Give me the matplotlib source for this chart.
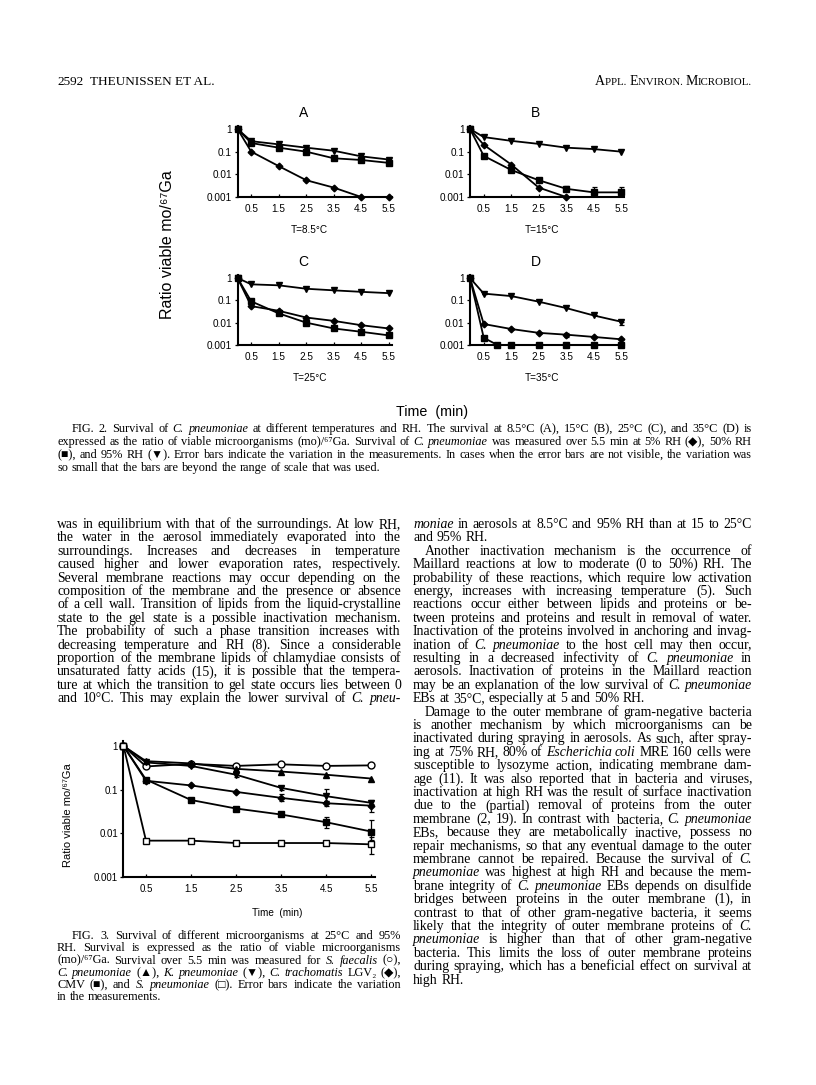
import numpy as np
import matplotlib
matplotlib.use('Agg')
import matplotlib.pyplot as plt
from matplotlib.transforms import IdentityTransform

W, H = 816, 1085

# ---------------- Fig. 2 data: ratio viable mo / 67Ga ----------------
time = [0, 0.5, 1.5, 2.5, 3.5, 4.5, 5.5]
time_d50 = [0, 0.5, 1.0, 1.5, 2.5, 3.5, 4.5, 5.5]
xticks = [0.5, 1.5, 2.5, 3.5, 4.5, 5.5]
xtick_labels = ['0.5', '1.5', '2.5', '3.5', '4.5', '5.5']
yticks = [1, 0.1, 0.01, 0.001]
ytick_labels = ['1', '0.1', '0.01', '0.001']

a_rh5 = [1, 0.10, 0.023, 0.0055, 0.0026, 0.001, 0.001]
a_rh50 = [1, 0.24, 0.15, 0.10, 0.051, 0.043, 0.032]
a_rh95 = [1, 0.29, 0.21, 0.15, 0.11, 0.062, 0.045]

b_rh5 = [1, 0.20, 0.027, 0.0026, 0.001]
b_rh50 = [1, 0.065, 0.0155, 0.0055, 0.0023, 0.0016, 0.0016]
b_rh95 = [1, 0.44, 0.30, 0.22, 0.15, 0.13, 0.10]
b_rh50_err_hi = [0, 0, 0, 0, 0.0008, 0.0013, 0.0013]

c_rh5 = [1, 0.055, 0.034, 0.017, 0.012, 0.0077, 0.0055]
c_rh50 = [1, 0.09, 0.026, 0.010, 0.0055, 0.0039, 0.0027]
c_rh95 = [1, 0.52, 0.47, 0.33, 0.28, 0.24, 0.21]

d_rh5 = [1, 0.0087, 0.0052, 0.0035, 0.0029, 0.0023, 0.0018]
d_rh50 = [1, 0.0021, 0.001, 0.001, 0.001, 0.001, 0.001, 0.001]
d_rh95 = [1, 0.20, 0.155, 0.087, 0.045, 0.021, 0.011]
d_rh5_err = [0, 0, 0, 0, 0.0006, 0, 0]
d_rh95_err_lo = [0, 0, 0, 0, 0, 0, 0.003]

panel_letters = ['A', 'B', 'C', 'D']
panel_temps = ['T=8.5°C', 'T=15°C', 'T=25°C', 'T=35°C']

# ---------------- Fig. 3 data (25°C, 95% RH) ----------------
s_faecalis = [1, 0.34, 0.39, 0.35, 0.38, 0.35, 0.36]
c_pneumoniae = [1, 0.45, 0.40, 0.30, 0.26, 0.22, 0.18]
k_pneumoniae = [1, 0.42, 0.35, 0.22, 0.11, 0.071, 0.050]
c_trachomatis = [1, 0.16, 0.125, 0.089, 0.065, 0.049, 0.043]
cmv = [1, 0.17, 0.058, 0.037, 0.027, 0.018, 0.011]
s_pneumoniae = [1, 0.0068, 0.0068, 0.006, 0.006, 0.006, 0.0056]

k_err_lo = [0, 0, 0, 0.03, 0.01, 0.016, 0.006]
k_err_hi = [0, 0, 0, 0.04, 0.01, 0.030, 0.008]
ct_err_lo = [0, 0, 0, 0, 0.011, 0.006, 0.012]
ct_err_hi = [0, 0, 0, 0, 0.015, 0.007, 0.005]
cmv_err_lo = [0, 0, 0, 0, 0, 0.005, 0.004]
cmv_err_hi = [0, 0, 0, 0, 0, 0.006, 0.009]
sp_err_lo = [0, 0, 0, 0, 0, 0, 0.0022]
sp_err_hi = [0, 0, 0, 0, 0, 0, 0.0028]

# ---------------- page text ----------------
fig2_caption = [
    "FIG. 2. Survival of _C._ _pneumoniae_ at different temperatures and RH. The survival at 8.5°C (A), 15°C (B), 25°C (C), and 35°C (D) is",
    "expressed as the ratio of viable microorganisms (mo)/⁶⁷Ga. Survival of _C._ _pneumoniae_ was measured over 5.5 min at 5% RH (◆), 50% RH",
    "(■), and 95% RH (▼). Error bars indicate the variation in the measurements. In cases when the error bars are not visible, the variation was",
    "so small that the bars are beyond the range of scale that was used.|",
]
left_column = [
    "was in equilibrium with that of the surroundings. At low RH,",
    "the water in the aerosol immediately evaporated into the",
    "surroundings. Increases and decreases in temperature",
    "caused higher and lower evaporation rates, respectively.",
    "Several membrane reactions may occur depending on the",
    "composition of the membrane and the presence or absence",
    "of a cell wall. Transition of lipids from the liquid-crystalline",
    "state to the gel state is a possible inactivation mechanism.",
    "The probability of such a phase transition increases with",
    "decreasing temperature and RH (8). Since a considerable",
    "proportion of the membrane lipids of chlamydiae consists of",
    "unsaturated fatty acids (15), it is possible that the tempera-",
    "ture at which the transition to gel state occurs lies between 0",
    "and 10°C. This may explain the lower survival of _C._ _pneu-_",
]
right_column = [
    "_moniae_ in aerosols at 8.5°C and 95% RH than at 15 to 25°C",
    "and 95% RH.|",
    ">Another inactivation mechanism is the occurrence of",
    "Maillard reactions at low to moderate (0 to 50%) RH. The",
    "probability of these reactions, which require low activation",
    "energy, increases with increasing temperature (5). Such",
    "reactions occur either between lipids and proteins or be-",
    "tween proteins and proteins and result in removal of water.",
    "Inactivation of the proteins involved in anchoring and invag-",
    "ination of _C._ _pneumoniae_ to the host cell may then occur,",
    "resulting in a decreased infectivity of _C._ _pneumoniae_ in",
    "aerosols. Inactivation of proteins in the Maillard reaction",
    "may be an explanation of the low survival of _C._ _pneumoniae_",
    "EBs at 35°C, especially at 5 and 50% RH.|",
    ">Damage to the outer membrane of gram-negative bacteria",
    "is another mechanism by which microorganisms can be",
    "inactivated during spraying in aerosols. As such, after spray-",
    "ing at 75% RH, 80% of _Escherichia_ _coli_ MRE 160 cells were",
    "susceptible to lysozyme action, indicating membrane dam-",
    "age (11). It was also reported that in bacteria and viruses,",
    "inactivation at high RH was the result of surface inactivation",
    "due to the (partial) removal of proteins from the outer",
    "membrane (2, 19). In contrast with bacteria, _C._ _pneumoniae_",
    "EBs, because they are metabolically inactive, possess no",
    "repair mechanisms, so that any eventual damage to the outer",
    "membrane cannot be repaired. Because the survival of _C._",
    "_pneumoniae_ was highest at high RH and because the mem-",
    "brane integrity of _C._ _pneumoniae_ EBs depends on disulfide",
    "bridges between proteins in the outer membrane (1), in",
    "contrast to that of other gram-negative bacteria, it seems",
    "likely that the integrity of outer membrane proteins of _C._",
    "_pneumoniae_ is higher than that of other gram-negative",
    "bacteria. This limits the loss of outer membrane proteins",
    "during spraying, which has a beneficial effect on survival at",
    "high RH.|",
]
fig3_caption = [
    "FIG. 3. Survival of different microorganisms at 25°C and 95%",
    "RH. Survival is expressed as the ratio of viable microorganisms",
    "(mo)/⁶⁷Ga. Survival over 5.5 min was measured for _S._ _faecalis_ (○),",
    "_C._ _pneumoniae_ (▲), _K._ _pneumoniae_ (▼), _C._ _trachomatis_ LGV₂ (◆),",
    "CMV (■), and _S._ _pneumoniae_ (□). Error bars indicate the variation",
    "in the measurements.|",
]

SERIF = ['Liberation Serif', 'DejaVu Sans']
SANS = ['Liberation Sans', 'DejaVu Sans']

fig = plt.figure(figsize=(W / 100, H / 100), dpi=100)
fig.patch.set_facecolor('white')
renderer = fig.canvas.get_renderer()
PIX = IdentityTransform()


def ptext(x, y, s, **kw):
    # text placed in page pixels, y measured from the top
    return fig.text(x, H - y, s, transform=PIX, **kw)


def parse_word(word):
    parts = word.split('_')
    return [(p, i % 2 == 1) for i, p in enumerate(parts) if p]


def seg_width(s, italic, size, family):
    t = fig.text(0, 0, s, fontsize=size, family=family,
                 fontstyle='italic' if italic else 'normal', transform=PIX)
    w = t.get_window_extent(renderer).width
    t.remove()
    return w


def space_width(size, family):
    return seg_width('x x', False, size, family) - seg_width('xx', False, size, family)


def is_indented(line):
    return line.startswith('>') or line.startswith('FIG')


def line_width(line, size, family):
    words = line.lstrip('>').rstrip('|').split(' ')
    total = sum(seg_width(s, it, size, family) for w in words for s, it in parse_word(w))
    return total + (len(words) - 1) * space_width(size, family)


def fit_size(lines, width, family, indent):
    base = 10.0
    worst = max(line_width(l, base, family) + (indent if is_indented(l) else 0)
                for l in lines if not l.endswith('|'))
    return base * width / worst * 0.985


def draw_block(lines, x0, x1, y0, step, size, family, indent):
    space = space_width(size, family)
    for k, line in enumerate(lines):
        justify = not line.endswith('|')
        start = x0 + (indent if is_indented(line) else 0)
        words = line.lstrip('>').rstrip('|').split(' ')
        segs = [parse_word(w) for w in words]
        widths = [[seg_width(s, it, size, family) for s, it in sg] for sg in segs]
        total = sum(sum(w) for w in widths)
        gap = (x1 - start - total) / (len(words) - 1) if justify and len(words) > 1 else space
        x = start
        y = y0 + k * step
        for sg, ws in zip(segs, widths):
            for (s, it), w in zip(sg, ws):
                ptext(x, y, s, fontsize=size, family=family, va='baseline',
                      fontstyle='italic' if it else 'normal')
                x += w
            x += gap


def panel(x0, y_one, y_milli, unit, xmax=5.6, ymax=1.3, tick_size=7.2):
    dec = (y_milli - y_one) / 3.0
    top = y_one - np.log10(ymax) * dec
    right = x0 + xmax * unit
    ax = fig.add_axes([x0 / W, 1 - y_milli / H, (right - x0) / W, (y_milli - top) / H])
    ax.set_yscale('log')
    ax.set_xlim(0, xmax)
    ax.set_ylim(0.001, ymax)
    for side in ['top', 'right']:
        ax.spines[side].set_visible(False)
    for side in ['left', 'bottom']:
        ax.spines[side].set_linewidth(1.5)
    ax.set_xticks(xticks)
    ax.set_xticklabels(xtick_labels)
    ax.set_yticks(yticks)
    ax.set_yticklabels(ytick_labels)
    ax.minorticks_off()
    ax.tick_params(axis='x', direction='in', length=2.5, width=0.9, pad=5, labelsize=tick_size)
    ax.tick_params(axis='y', direction='out', length=2, width=0.9, pad=2, labelsize=tick_size)
    for lab in ax.get_xticklabels() + ax.get_yticklabels():
        lab.set_family(SANS)
    ax.patch.set_alpha(0)
    return ax


def series(ax, x, y, marker, ms, face='k', err=None):
    ax.plot(x[:len(y)], y, color='k', lw=1.3, marker=marker, ms=ms, mfc=face, mec='k',
            mew=1.0, clip_on=False, zorder=3)
    if err is not None:
        ax.errorbar(x[:len(y)], y, yerr=err, fmt='none', ecolor='k', elinewidth=0.9,
                    capsize=1.8, capthick=0.9, clip_on=False, zorder=2)


# ---------------- header ----------------
LM, RM = 57, 752          # text margins of the page
HDR_Y = 85
ptext(LM, HDR_Y, '2592', fontsize=9.5, family=SERIF, va='baseline')
ptext(LM + 33, HDR_Y, 'THEUNISSEN ET AL.', fontsize=9.5, family=SERIF, va='baseline')
hdr = [('A', 10), ('PPL. ', 7.8), ('E', 10), ('NVIRON. ', 7.8), ('M', 10), ('ICROBIOL.', 7.8)]
hw = [seg_width(s, False, sz, SERIF) for s, sz in hdr]
x = RM - sum(hw)
for (s, sz), w in zip(hdr, hw):
    ptext(x, HDR_Y, s, fontsize=sz, family=SERIF, va='baseline')
    x += w

# ---------------- Fig. 2 ----------------
unit2 = 27.5
pos2 = [(237.5, 129, 197), (470, 129, 197), (237.5, 278, 345), (470, 278, 345)]
data2 = [
    (a_rh5, a_rh50, a_rh95),
    (b_rh5, b_rh50, b_rh95),
    (c_rh5, c_rh50, c_rh95),
    (d_rh5, d_rh50, d_rh95),
]
for i, ((x0, y1, y3), (r5, r50, r95)) in enumerate(zip(pos2, data2)):
    ax = panel(x0, y1, y3, unit2)
    t50 = time_d50 if i == 3 else time
    e50 = [[0] * len(time), b_rh50_err_hi] if i == 1 else None
    e5 = [d_rh5_err, d_rh5_err] if i == 3 else None
    e95 = [d_rh95_err_lo, [0] * len(time)] if i == 3 else None
    series(ax, time, r95, 'v', 5.0, err=e95)
    series(ax, t50, r50, 's', 4.7, err=e50)
    series(ax, time, r5, 'D', 3.4, err=e5)
    cx = x0 + 2.4 * unit2
    ptext(cx, y1 - 16, panel_letters[i], fontsize=10, family=SANS, ha='center', va='center')
    ptext(cx + 6, y3 + 33, panel_temps[i], fontsize=7.2, family=SANS, ha='center', va='center')

ptext(168, 245, 'Ratio viable mo/⁶⁷Ga', fontsize=11.5, family=SANS, rotation=90,
      ha='center', va='center')
ptext(432, 412, 'Time  (min)', fontsize=10.3, family=SANS, ha='center', va='center')

# ---------------- Fig. 3 ----------------
ax3 = panel(123.5, 746, 877, 45, tick_size=7.0)
series(ax3, time, s_faecalis, 'o', 5.0, face='white')
series(ax3, time, c_pneumoniae, '^', 5.0)
series(ax3, time, k_pneumoniae, 'v', 5.0, err=[k_err_lo, k_err_hi])
series(ax3, time, c_trachomatis, 'D', 3.4, err=[ct_err_lo, ct_err_hi])
series(ax3, time, cmv, 's', 4.7, err=[cmv_err_lo, cmv_err_hi])
series(ax3, time, s_pneumoniae, 's', 4.7, face='white', err=[sp_err_lo, sp_err_hi])
ptext(68, 815, 'Ratio viable mo/⁶⁷Ga', fontsize=8.0, family=SANS, rotation=90,
      ha='center', va='center')
ptext(277, 913, 'Time  (min)', fontsize=7.2, family=SANS, ha='center', va='center')

# ---------------- text blocks ----------------
COL_L = (LM, 401)
COL_R = (413, RM)

cap_size = fit_size(fig2_caption, RM - LM, SERIF, 15)
draw_block(fig2_caption, LM, RM, 432, 13.0, cap_size, SERIF, 15)

body_size = fit_size(left_column + right_column, COL_L[1] - COL_L[0], SERIF, 12)
draw_block(left_column, COL_L[0], COL_L[1], 528, 13.4, body_size, SERIF, 12)
draw_block(right_column, COL_R[0], COL_R[1], 528, 13.4, body_size, SERIF, 12)

cap3_size = fit_size(fig3_caption, COL_L[1] - COL_L[0], SERIF, 15)
draw_block(fig3_caption, COL_L[0], COL_L[1], 939, 12.3, cap3_size, SERIF, 15)

fig.savefig('out.png', dpi=100, facecolor='white')
